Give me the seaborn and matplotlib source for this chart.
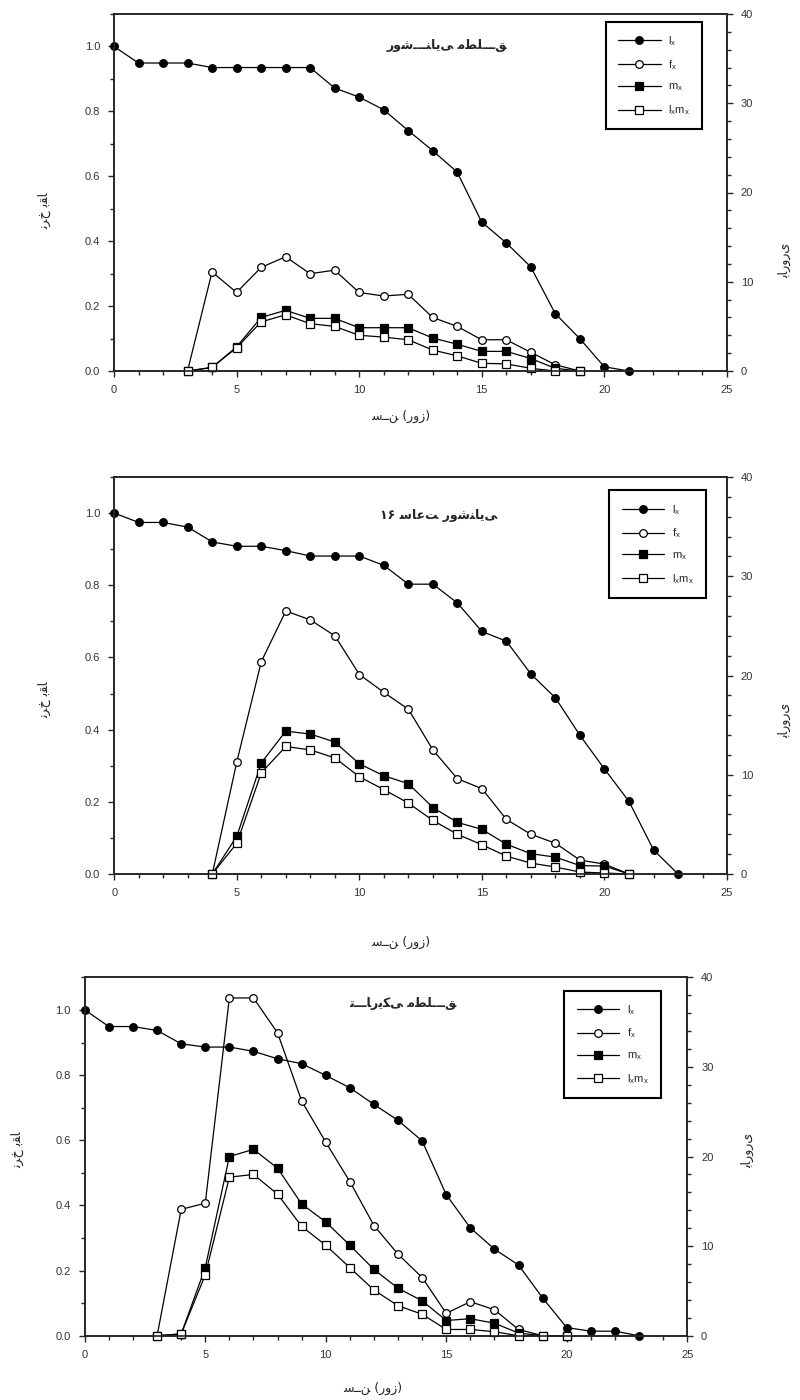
import matplotlib
matplotlib.use("Agg")
import matplotlib.pyplot as plt
from matplotlib.ticker import MultipleLocator
import seaborn as sns

# ---- data ----
# panel 1: absolute light
days_lx1 = list(range(0, 22))
lx1 = [1.0, 0.949, 0.949, 0.949, 0.935, 0.935, 0.935, 0.935, 0.935, 0.872, 0.844,
       0.805, 0.741, 0.679, 0.613, 0.459, 0.395, 0.321, 0.177, 0.100, 0.013, 0.0]
days_f1 = list(range(3, 20))
fx1 = [0, 11.1, 8.8, 11.6, 12.8, 10.9, 11.3, 8.8, 8.4, 8.6, 6.0, 5.0, 3.5, 3.5, 2.1, 0.7, 0]
mx1 = [0, 0.4, 2.7, 6.0, 6.8, 5.9, 5.9, 4.85, 4.85, 4.85, 3.7, 3.0, 2.2, 2.2, 1.4, 0.3, 0]
lxmx1 = [0, 0.4, 2.6, 5.5, 6.3, 5.3, 5.0, 4.0, 3.8, 3.5, 2.35, 1.7, 0.86, 0.8, 0.3, 0, 0]

# panel 2: 16 h light
days_lx2 = list(range(0, 24))
lx2 = [1.0, 0.974, 0.974, 0.961, 0.920, 0.908, 0.908, 0.896, 0.881, 0.881, 0.881, 0.855,
       0.803, 0.803, 0.751, 0.672, 0.645, 0.554, 0.488, 0.384, 0.291, 0.201, 0.067, 0.0]
days_f2 = list(range(4, 22))
fx2 = [0, 11.3, 21.4, 26.5, 25.6, 24.0, 20.1, 18.3, 16.6, 12.5, 9.6, 8.6, 5.5, 4.0, 3.1, 1.4, 1.0, 0]
mx2 = [0, 3.8, 11.2, 14.4, 14.1, 13.3, 11.1, 9.9, 9.1, 6.7, 5.2, 4.5, 3.0, 2.05, 1.7, 0.85, 0.8, 0]
lxmx2 = [0, 3.1, 10.2, 12.85, 12.5, 11.7, 9.8, 8.5, 7.15, 5.4, 4.0, 2.95, 1.8, 1.1, 0.7, 0.2, 0.1, 0]

# panel 3: absolute darkness
days_lx3 = list(range(0, 24))
lx3 = [1.0, 0.949, 0.949, 0.937, 0.896, 0.886, 0.886, 0.873, 0.850, 0.835, 0.799, 0.761,
       0.710, 0.661, 0.598, 0.433, 0.331, 0.266, 0.217, 0.116, 0.025, 0.014, 0.014, 0.0]
days_f3 = list(range(3, 20))
fx3 = [0, 14.1, 14.8, 37.7, 37.7, 33.8, 26.2, 21.6, 17.2, 12.3, 9.1, 6.5, 2.5, 3.8, 2.9, 0.7, 0]
days_m3 = list(range(3, 21))
mx3 = [0, 0.2, 7.6, 20.0, 20.8, 18.7, 14.7, 12.7, 10.1, 7.4, 5.3, 3.9, 1.7, 1.9, 1.4, 0.3, 0, 0]
lxmx3 = [0, 0.2, 6.8, 17.7, 18.0, 15.8, 12.2, 10.1, 7.6, 5.1, 3.35, 2.4, 0.7, 0.7, 0.45, 0, 0, 0]

titles = ["روشـــنایی مطلـــق", "۱۶ ساعت روشنایی", "تـــاریکی مطلـــق"]
xlabel = "ســن (روز)"
ylabel_left = "نرخ بقا"
ylabel_right = "باروری"
legend_labels = [r"$\mathregular{l_x}$", r"$\mathregular{f_x}$",
                 r"$\mathregular{m_x}$", r"$\mathregular{l_xm_x}$"]

# ---- tiny persian shaper: joined letter forms, drawn in the same
# left-to-right order as the original figure shows them ----
FORMS = {
    'ا': ('\ufe8d', '\ufe8e', None, None),
    'ب': ('\ufe8f', '\ufe90', '\ufe91', '\ufe92'),
    'ت': ('\ufe95', '\ufe96', '\ufe97', '\ufe98'),
    'خ': ('\ufea5', '\ufea6', '\ufea7', '\ufea8'),
    'ر': ('\ufead', '\ufeae', None, None),
    'ز': ('\ufeaf', '\ufeb0', None, None),
    'س': ('\ufeb1', '\ufeb2', '\ufeb3', '\ufeb4'),
    'ش': ('\ufeb5', '\ufeb6', '\ufeb7', '\ufeb8'),
    'ط': ('\ufec1', '\ufec2', '\ufec3', '\ufec4'),
    'ع': ('\ufec9', '\ufeca', '\ufecb', '\ufecc'),
    'ق': ('\ufed5', '\ufed6', '\ufed7', '\ufed8'),
    'ل': ('\ufedd', '\ufede', '\ufedf', '\ufee0'),
    'م': ('\ufee1', '\ufee2', '\ufee3', '\ufee4'),
    'ن': ('\ufee5', '\ufee6', '\ufee7', '\ufee8'),
    'و': ('\ufeed', '\ufeee', None, None),
    'ک': ('\ufb8e', '\ufb8f', '\ufb90', '\ufb91'),
    'ی': ('\ufbfc', '\ufbfd', '\ufbfe', '\ufbff'),
    'ـ': ('ـ', 'ـ', 'ـ', 'ـ'),
}


def fa(text):
    out = []
    for i, ch in enumerate(text):
        if ch not in FORMS:
            out.append(ch)
            continue
        prev = text[i - 1] if i > 0 else ''
        nxt = text[i + 1] if i + 1 < len(text) else ''
        jp = prev in FORMS and FORMS[prev][2] is not None
        jn = nxt in FORMS and FORMS[ch][2] is not None
        iso, fin, ini, med = FORMS[ch]
        out.append(med if jp and jn else fin if jp else ini if jn else iso)
    return ''.join(out)


sns.set_style("ticks")
plt.rcParams['font.family'] = ['Liberation Sans', 'DejaVu Sans']
plt.rcParams['axes.linewidth'] = 1.2

fig = plt.figure(figsize=(8, 14), dpi=100)

panels = [
    dict(rect=[0.1425, 0.735, 0.766, 0.255], lx=(days_lx1, lx1),
         f=(days_f1, fx1), m=(days_f1, mx1), lm=(days_f1, lxmx1),
         leg=(0.803, 0.978), title=(0.543, 0.913), xl=(0.467, -0.109),
         yl=(-0.103, 0.45), yr=(1.083, 0.31)),
    dict(rect=[0.1428, 0.3757, 0.766, 0.2836], lx=(days_lx2, lx2),
         f=(days_f2, fx2), m=(days_f2, mx2), lm=(days_f2, lxmx2),
         leg=(0.808, 0.966), title=(0.53, 0.904), xl=(0.467, -0.155),
         yl=(-0.103, 0.438), yr=(1.083, 0.388)),
    dict(rect=[0.106, 0.0459, 0.753, 0.256], lx=(days_lx3, lx3),
         f=(days_f3, fx3), m=(days_m3, mx3), lm=(days_m3, lxmx3),
         leg=(0.796, 0.963), title=(0.527, 0.928), xl=(0.478, -0.13),
         yl=(-0.10, 0.518), yr=(1.09, 0.518)),
]

line_kw = dict(color='k', linewidth=0.9, markersize=5.5, markeredgecolor='k',
               markeredgewidth=0.9, clip_on=False)

for i, p in enumerate(panels):
    ax = fig.add_axes(p['rect'])
    ax2 = ax.twinx()

    sns.lineplot(x=p['lx'][0], y=p['lx'][1], ax=ax, marker='o',
                 markerfacecolor='k', label=legend_labels[0], **line_kw)
    sns.lineplot(x=p['f'][0], y=p['f'][1], ax=ax2, marker='o',
                 markerfacecolor='white', label=legend_labels[1], **line_kw)
    sns.lineplot(x=p['m'][0], y=p['m'][1], ax=ax2, marker='s',
                 markerfacecolor='k', label=legend_labels[2], **line_kw)
    sns.lineplot(x=p['lm'][0], y=p['lm'][1], ax=ax2, marker='s',
                 markerfacecolor='white', label=legend_labels[3], **line_kw)

    h1, l1 = ax.get_legend_handles_labels()
    h2, l2 = ax2.get_legend_handles_labels()
    if ax.get_legend() is not None:
        ax.get_legend().remove()
    if ax2.get_legend() is not None:
        ax2.get_legend().remove()

    ax.set_xlim(0, 25)
    ax.set_ylim(0, 1.1)
    ax2.set_ylim(0, 40)
    ax.set_xticks([0, 5, 10, 15, 20, 25])
    ax.set_yticks([0.0, 0.2, 0.4, 0.6, 0.8, 1.0])
    ax.set_yticklabels(['0.0', '0.2', '0.4', '0.6', '0.8', '1.0'])
    ax2.set_yticks([0, 10, 20, 30, 40])
    ax.xaxis.set_minor_locator(MultipleLocator(1))
    ax.yaxis.set_minor_locator(MultipleLocator(0.1))
    ax2.yaxis.set_minor_locator(MultipleLocator(2))
    for a in (ax, ax2):
        a.tick_params(which='major', direction='out', length=4, width=1,
                      labelsize=8, labelcolor='#333333', pad=6)
        a.tick_params(which='minor', direction='out', length=3, width=1)
        for s in a.spines.values():
            s.set_visible(True)
            s.set_linewidth(1.2)

    ax.set_xlabel(fa(xlabel), fontsize=9, family=['DejaVu Sans'])
    ax.xaxis.set_label_coords(*p['xl'])
    ax.set_ylabel(fa(ylabel_left), fontsize=9, family=['DejaVu Sans'])
    ax.yaxis.set_label_coords(*p['yl'])
    ax2.set_ylabel(fa(ylabel_right), fontsize=9, family=['DejaVu Sans'], rotation=90)
    ax2.yaxis.set_label_coords(*p['yr'])

    ax.text(p['title'][0], p['title'][1], fa(titles[i]), transform=ax.transAxes,
            ha='center', va='center', fontsize=9, fontweight='bold',
            family=['DejaVu Sans'])

    leg = ax2.legend(h1 + h2, l1 + l2, loc='upper left', bbox_to_anchor=p['leg'],
                     borderaxespad=0, frameon=True, fancybox=False, edgecolor='k',
                     framealpha=1, handlelength=3.8, labelspacing=0.9, fontsize=8,
                     borderpad=1.1, handletextpad=0.7)
    leg.get_frame().set_linewidth(1.5)

fig.savefig("out.png", dpi=100, facecolor='white')
